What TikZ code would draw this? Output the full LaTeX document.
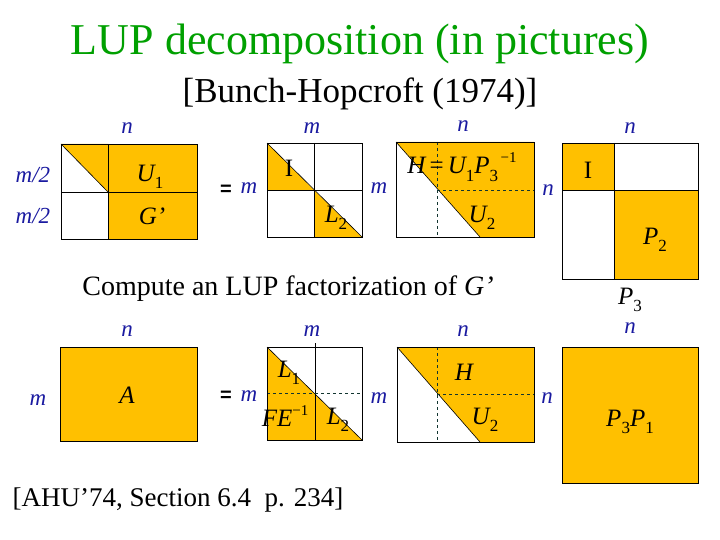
\documentclass[tikz,border=0pt]{standalone}
\usepackage{fontspec}
\setmainfont{Liberation Serif}
\newfontfamily\arialf{Liberation Sans}
\definecolor{org}{HTML}{FFC000}
\definecolor{lab}{HTML}{1A1AA0}
\definecolor{ttl}{HTML}{00A000}
\definecolor{dsh}{HTML}{3CB0A0}
\newcommand\sbs[1]{\raisebox{-0.3em}{\fontsize{17}{17}\selectfont\upshape #1}}
\newcommand\sps[1]{\raisebox{0.45em}{\fontsize{15}{15}\selectfont\upshape #1}}
\begin{document}
\begin{tikzpicture}[x=1pt,y=-1pt,
  dim/.style={text=lab,font=\fontsize{23}{23}\selectfont\itshape},
  mat/.style={font=\fontsize{25}{25}\selectfont\itshape},
  bx/.style={draw=black,line width=0.8pt},
  ln/.style={draw=black,line width=0.6pt},
  dl/.style={draw=black!70!dsh,line width=0.6pt,dashed},
  fl/.style={fill=org}]
\useasboundingbox (0,0) rectangle (720,540);
\node (title) [text=ttl,font=\fontsize{44}{44}\selectfont] at (360,44) {LUP decomposition (in pictures)};
\node (sub) [font=\fontsize{35}{35}\selectfont] at (360,94) {[Bunch-Hopcroft (1974)]};
% ---- top row
\node (n1) [dim] at (127,128) {n};
\node (m1) [dim] at (312,128) {m};
\node (n2) [dim] at (463,126) {n};
\node (n3) [dim] at (630,128) {n};
% box1
\fill[fl] (61,144) -- (108,144) -- (108,192) -- cycle;
\fill[fl] (108,144) rectangle (197,239);
\draw[ln] (61,144) -- (108,192);
\draw[ln] (108,144) -- (108,239) (61,192) -- (197,192);
\draw[bx] (61,144) rectangle (197,239);
\node (ma) [dim] at (33,175) {m/2};
\node (mb) [dim] at (33,216) {m/2};
\node (u1) [mat] at (150,177) {U\sbs{1}};
\node (gp) [mat] at (152,216) {G’};
\node (eq1) [font=\arialf\bfseries\fontsize{20}{20}\selectfont] at (226,190) {=};
\node (m2) [dim] at (249,188) {m};
% box2
\fill[fl] (267,143) -- (314,190) -- (267,190) -- cycle;
\fill[fl] (314,190) -- (362,237) -- (314,237) -- cycle;
\draw[ln] (267,143) -- (362,237);
\draw[ln] (314,143) -- (314,237) (267,190) -- (362,190);
\draw[bx] (267,143) rectangle (362,237);
\node (I1) [mat,font=\fontsize{25}{25}\selectfont\upshape] at (289,168) {I};
\node (l2a) [mat] at (336,218) {L\sbs{2}};
\node (m3) [dim] at (379,188) {m};
% box3
\fill[fl] (396,142) -- (534,142) -- (534,237) -- (480,237) -- cycle;
\draw[ln] (396,142) -- (480,237);
\draw[dl] (437,142) -- (437,237) (437,190) -- (534,190);
\draw[bx] (396,142) rectangle (534,237);
\node (hh) [mat] at (462,167) {H\,\upshape=\,\itshape U\sbs{1}P\sbs{3}\sps{\,−1}};
\node (u2a) [mat] at (482,218) {U\sbs{2}};
\node (n4) [dim] at (548,190) {n};
% box4
\fill[fl] (562,143) rectangle (614,190);
\fill[fl] (614,190) rectangle (698,279);
\draw[ln] (614,143) -- (614,279) (562,190) -- (698,190);
\draw[bx] (562,143) rectangle (698,279);
\node (I2) [mat,font=\fontsize{25}{25}\selectfont\upshape] at (588,170) {I};
\node (p2) [mat] at (655,240) {P\sbs{2}};
\node (p3) [mat] at (630,300) {P\sbs{3}};
\node (comp) [font=\fontsize{28}{28}\selectfont] at (288,289) {Compute an LUP factorization of \textit{G’}};
% ---- bottom row
\node (n5) [dim] at (127,331) {n};
\node (m5) [dim] at (312,331) {m};
\node (n6) [dim] at (463,331) {n};
\node (n7) [dim] at (630,328) {n};
\fill[fl] (60,347) rectangle (197,441);
\draw[bx] (60,347) rectangle (197,441);
\node (A) [mat] at (127,395) {A};
\node (mL) [dim] at (38,400) {m};
\node (eq2) [font=\arialf\bfseries\fontsize{20}{20}\selectfont] at (226,396) {=};
\node (m6) [dim] at (249,396) {m};
% box B
\fill[fl] (267,347) -- (362,440) -- (267,440) -- cycle;
\draw[ln] (267,347) -- (362,440);
\draw[ln] (315,343) -- (315,440);
\draw[dl] (267,393) -- (362,393);
\draw[bx] (267,347) rectangle (362,440);
\node (L1) [mat] at (289,373) {L\sbs{1}};
\node (fe) [mat] at (285,416) {FE\sps{−1}};
\node (L2b) [mat] at (338,420) {L\sbs{2}};
\node (m7) [dim] at (379,398) {m};
% box C
\fill[fl] (397,347) -- (534,347) -- (534,442) -- (480,442) -- cycle;
\draw[ln] (397,347) -- (480,442);
\draw[dl] (437,347) -- (437,442) (437,394) -- (534,394);
\draw[bx] (397,347) rectangle (534,442);
\node (H2) [mat] at (464,372) {H};
\node (u2b) [mat] at (485,420) {U\sbs{2}};
\node (n8) [dim] at (547,398) {n};
% box D
\fill[fl] (562,347) rectangle (698,483);
\draw[bx] (562,347) rectangle (698,483);
\node (pp) [mat] at (630,422) {P\sbs{3}P\sbs{1}};
\node (foot) [font=\fontsize{27}{27}\selectfont] at (178,500) {[AHU’74, Section 6.4 \ p. 234]};
\end{tikzpicture}
\end{document}
